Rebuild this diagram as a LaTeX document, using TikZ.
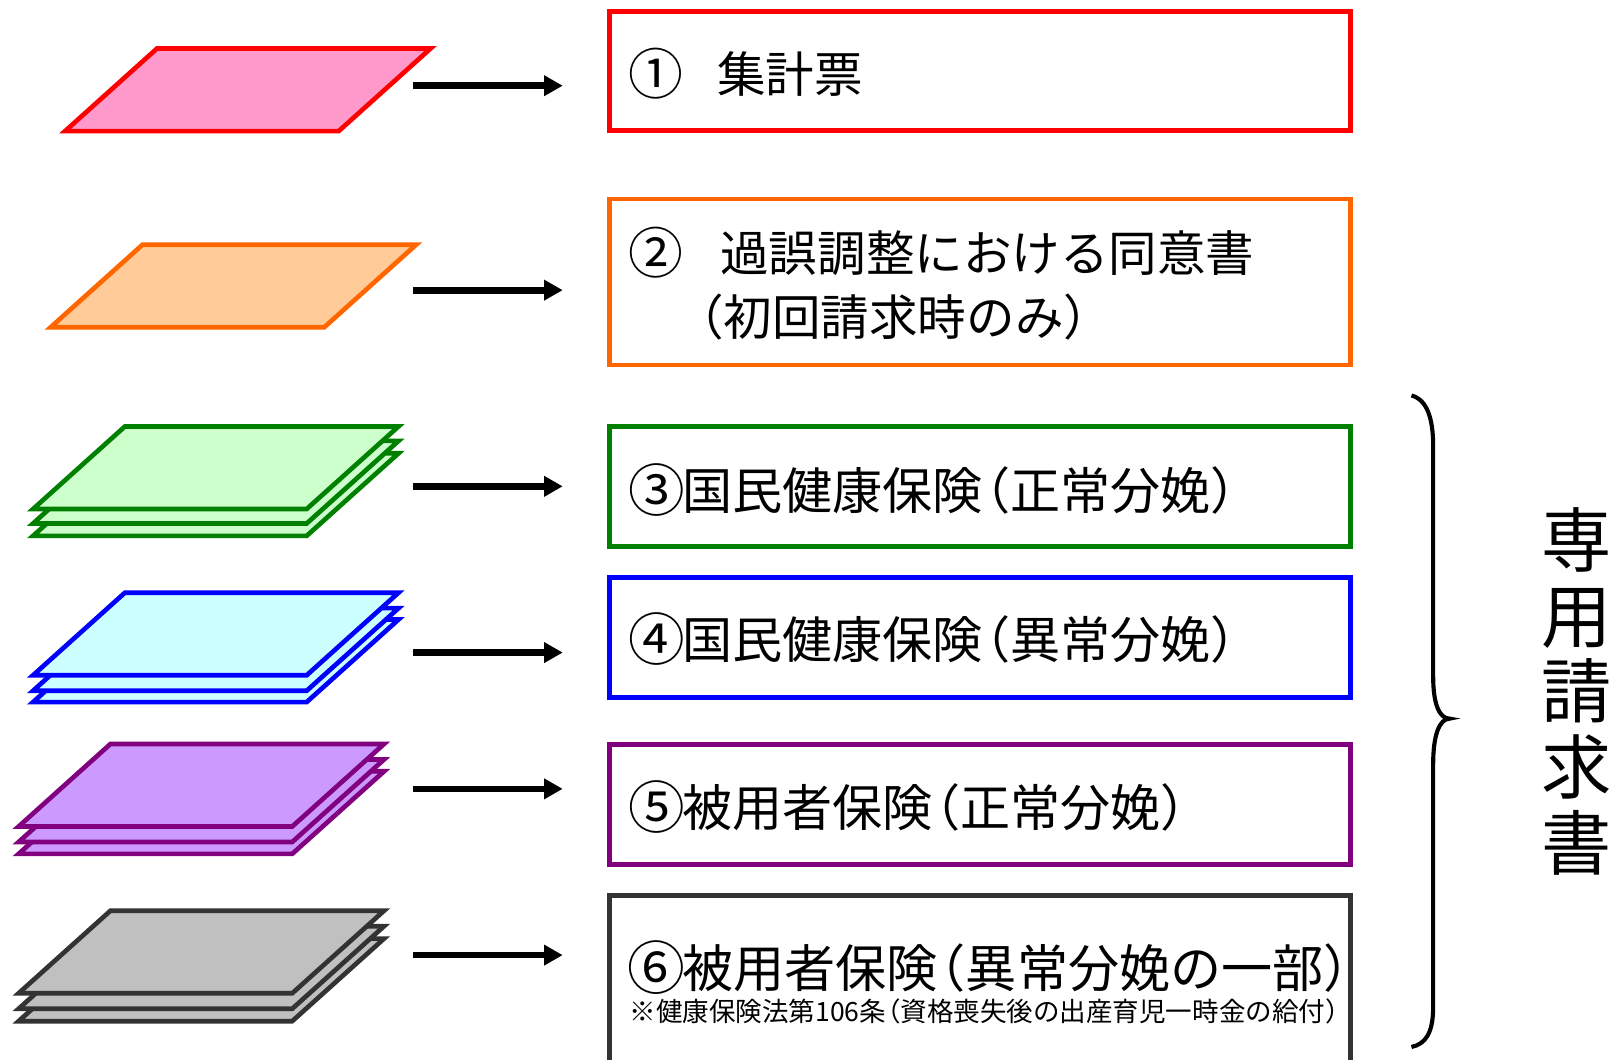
\documentclass[tikz,border=0pt]{standalone}
\usepackage{graphicx}
\usepackage{fontspec}
\newfontfamily\jp{Noto Sans CJK JP}
\usetikzlibrary{arrows.meta}
\definecolor{cRed}{HTML}{FF0000}
\definecolor{fRed}{HTML}{FF99CC}
\definecolor{cOrange}{HTML}{FF6600}
\definecolor{fOrange}{HTML}{FFCC99}
\definecolor{cGreen}{HTML}{008000}
\definecolor{fGreen}{HTML}{CCFFCC}
\definecolor{cBlue}{HTML}{0000FF}
\definecolor{fBlue}{HTML}{CCFFFF}
\definecolor{cPurple}{HTML}{800080}
\definecolor{fPurple}{HTML}{CC99FF}
\definecolor{cGray}{HTML}{333333}
\definecolor{fGray}{HTML}{C0C0C0}
\newcommand\jlp{\makebox[0.55em][r]{（}}
\newcommand\jrp{\makebox[0.55em][l]{）}}
\newcommand\cnum[1]{\makebox[1em][c]{\raisebox{-0.04em}{\scalebox{1.13}{#1}}}}
\newcommand\drawsheet[3]{%
  \filldraw[sheetline, draw=#2, fill=#3] (#1) -- ++(265,0) -- ++(89,-80) -- ++(-265,0) -- cycle;}
\begin{document}
\begin{tikzpicture}[x=1pt,y=-1pt,
  sheetline/.style={line width=4.5pt, line join=miter},
  docbox/.style={draw, line width=4.5pt, minimum width=718pt, inner sep=0pt, fill=white},
  arr/.style={line width=6.5pt, -{Triangle[length=18pt,width=19pt]}},
  txt/.style={anchor=base west, inner sep=0pt, text=black},
  bigA/.style={font=\jp\fontsize{47}{56}\selectfont},
  bigB/.style={font=\jp\fontsize{48.5}{58}\selectfont},
  bigC/.style={font=\jp\fontsize{49.5}{60}\selectfont},
  smallC/.style={font=\jp\fontsize{25.7}{30}\selectfont},
  vlabel/.style={font=\jp\fontsize{68}{73.25}\selectfont, align=center, inner sep=0pt},
  bracel/.style={line width=4pt}]
\useasboundingbox (0,0) rectangle (1568,1026);
\clip (0,0) rectangle (1568,1026);

% sheets
\drawsheet{63,127}{cRed}{fRed}
\drawsheet{49,317}{cOrange}{fOrange}
\drawsheet{32,519}{cGreen}{fGreen}
\drawsheet{32,507}{cGreen}{fGreen}
\drawsheet{32,493}{cGreen}{fGreen}
\drawsheet{32,680}{cBlue}{fBlue}
\drawsheet{32,669}{cBlue}{fBlue}
\drawsheet{32,654}{cBlue}{fBlue}
\drawsheet{18,827}{cPurple}{fPurple}
\drawsheet{18,815.5}{cPurple}{fPurple}
\drawsheet{18,800.5}{cPurple}{fPurple}
\drawsheet{18,989}{cGray}{fGray}
\drawsheet{18,977}{cGray}{fGray}
\drawsheet{18,962}{cGray}{fGray}

% boxes
\node[docbox, draw=cRed, minimum height=115.7pt] (b1) at (949,68.8) {};
\node[docbox, draw=cOrange, minimum height=160.8pt] (b2) at (949,273.2) {};
\node[docbox, draw=cGreen, minimum height=116.6pt] (b3) at (949,471.2) {};
\node[docbox, draw=cBlue, minimum height=116.2pt] (b4) at (949,617.4) {};
\node[docbox, draw=cPurple, minimum height=116.3pt] (b5) at (949,778.9) {};
\node[docbox, draw=cGray, minimum height=213pt] (b6) at (949,973.5) {};

% texts
\node[txt, bigA] (t1) at (612,89.7) {\cnum{①}\hspace{0.75em}集計票};
\node[txt, bigA] (t2a) at (612,263.4) {\cnum{②}\hspace{0.82em}過誤調整における同意書};
\node[txt, bigA] (t2b) at (675,325.4) {\jlp 初回請求時のみ\jrp};
\node[txt, bigB] (t3) at (612,493.2) {\cnum{③}国民健康保険\jlp 正常分娩\jrp};
\node[txt, bigB] (t4) at (612,638.2) {\cnum{④}国民健康保険\jlp 異常分娩\jrp};
\node[txt, bigB] (t5) at (612,800.2) {\cnum{⑤}被用者保険\jlp 正常分娩\jrp};
\node[txt, bigC] (t6) at (611,956.8) {\cnum{⑥}被用者保険\jlp 異常分娩の一部\jrp};
\node[txt, smallC] (t6b) at (609.5,989.5) {※健康保険法第106条\jlp 資格喪失後の出産育児一時金の給付\jrp};

% arrows
\foreach \i/\y in {1/83,2/281,3/471,4/632,5/764,6/925}{
  \coordinate (s\i) at (400,\y);
  \coordinate (e\i) at (545,\y);
  \draw[arr] (s\i) -- (e\i);
}

% brace
\coordinate (brTop) at (1367,383);
\coordinate (brTip) at (1404,696);
\coordinate (brBot) at (1367,1014);
\draw[bracel] (brTop) .. controls (1382,387) and (1388,405) .. (1388,432)
  -- (1388,655) .. controls (1388,682) and (1394,696) .. (brTip)
  .. controls (1394,696) and (1388,712) .. (1388,740)
  -- (1388,975) .. controls (1388,1000) and (1381,1011) .. (brBot);

% vertical label
\node[vlabel] (lbl) at (1527,669.5) {専\\用\\請\\求\\書};
\end{tikzpicture}
\end{document}
